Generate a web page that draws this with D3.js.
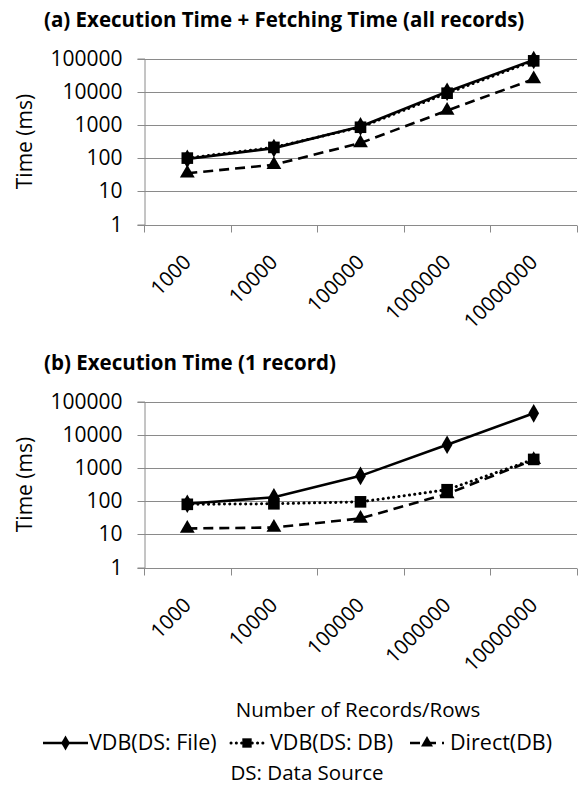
<!DOCTYPE html>
<html>
<head>
<meta charset="utf-8">
<script src="https://cdn.jsdelivr.net/npm/d3@7"></script>
<style>
  html, body { margin: 0; padding: 0; background: #fff; }
  svg text { font-family: "Open Sans", "Noto Sans", sans-serif; fill: #000; }
</style>
</head>
<body>
<svg id="chart" width="585" height="787"></svg>
<script>
// ---- data ----
const categories = ["1000", "10000", "100000", "1000000", "10000000"];
const yTicks = [1, 10, 100, 1000, 10000, 100000];
const seriesNames = ["VDB(DS: File)", "VDB(DS: DB)", "Direct(DB)"];

// (a) Execution Time + Fetching Time (all records)
const aFile   = [95, 200, 900, 10000, 90000];
const aDB     = [100, 210, 850, 9000, 85000];
const aDirect = [35, 63, 285, 2700, 24000];

// (b) Execution Time (1 record)
const bFile   = [83, 130, 575, 5000, 44000];
const bDB     = [80, 83, 95, 220, 1800];
const bDirect = [15, 16, 30, 165, 1750];

const titles = ["(a) Execution Time + Fetching Time (all records)", "(b) Execution Time (1 record)"];
const yTitle = "Time (ms)";
const xTitle = "Number of Records/Rows";
const note = "DS: Data Source";

// ---- styles ----
const styles = [
  { dash: null, marker: d3.symbolDiamond, msize: 100 },
  { dash: "0.1,5.2", marker: d3.symbolSquare, msize: 135 },
  { dash: "10,6", marker: d3.symbolTriangle, msize: 95 }
];
const gridColor = "#8a8a8a";
const fs = 20.5;

const svg = d3.select("#chart");

function styleSeriesLine(sel, i) {
  sel.attr("fill", "none").attr("stroke", "#000").attr("stroke-width", 2.6);
  if (i === 1) sel.attr("stroke-dasharray", styles[i].dash).attr("stroke-linecap", "round").attr("stroke-width", 3);
  if (i === 2) sel.attr("stroke-dasharray", styles[i].dash);
}

function panel(top, titleY, title, data) {
  const left = 144, right = 577;
  const yTop = top, yBot = top + 166;
  const g = svg.append("g");

  const x = d3.scaleBand().domain(categories).range([left, right]);
  const y = d3.scaleLog().domain([1, 100000]).range([yBot, yTop]);
  const cx = c => x(c) + x.bandwidth() / 2;

  // title
  g.append("text").attr("x", 44).attr("y", titleY)
    .attr("font-size", 20.5).attr("font-weight", "bold").text(title);

  // gridlines
  g.append("g").selectAll("line").data(yTicks.slice(1)).join("line")
    .attr("x1", left).attr("x2", right)
    .attr("y1", d => Math.round(y(d)) + 0.5).attr("y2", d => Math.round(y(d)) + 0.5)
    .attr("stroke", gridColor).attr("stroke-width", 1);

  // y axis
  const ya = g.append("g").attr("transform", `translate(${left + 0.5},0)`)
    .call(d3.axisLeft(y).tickValues(yTicks).tickFormat(d3.format("d")).tickSize(7).tickPadding(15));
  ya.select(".domain").attr("stroke", gridColor);
  ya.selectAll(".tick line").attr("stroke", gridColor);
  ya.selectAll(".tick text").attr("font-size", 21).attr("font-family", "Open Sans").attr("fill", "#000");
  ya.selectAll(".tick").attr("transform", d => `translate(0,${Math.round(y(d)) + 0.5})`);

  // x axis line + ticks at band boundaries
  const bl = Math.round(y(1)) + 0.5;
  g.append("line").attr("x1", left).attr("x2", right).attr("y1", bl).attr("y2", bl)
    .attr("stroke", gridColor);
  const bounds = d3.range(categories.length + 1).map(i => left + i * x.step());
  g.append("g").selectAll("line").data(bounds).join("line")
    .attr("x1", d => Math.round(d) + 0.5).attr("x2", d => Math.round(d) + 0.5)
    .attr("y1", bl).attr("y2", bl + 7).attr("stroke", gridColor);

  // x labels rotated
  g.append("g").selectAll("text").data(categories).join("text")
    .attr("transform", d => `translate(${cx(d) + 5},${bl + 38}) rotate(-45)`)
    .attr("text-anchor", "end").attr("font-size", fs).text(d => d);

  // y title
  g.append("text").attr("transform", `translate(32,${(yTop + yBot) / 2}) rotate(-90)`)
    .attr("text-anchor", "middle").attr("font-size", 21).text(yTitle);

  // series
  data.forEach((vals, i) => {
    const st = styles[i];
    const line = d3.line().x((d, j) => cx(categories[j])).y(d => y(d));
    g.append("path").datum(vals).attr("d", line).call(styleSeriesLine, i);
    g.append("g").selectAll("path").data(vals).join("path")
      .attr("d", d3.symbol().type(st.marker).size(st.msize))
      .attr("transform", (d, j) => `translate(${cx(categories[j])},${y(d)})`)
      .attr("fill", "#000");
  });
}

panel(58.5, 27, titles[0], [aFile, aDB, aDirect]);
panel(401.5, 370, titles[1], [bFile, bDB, bDirect]);

// x axis title
svg.append("text").attr("x", 358).attr("y", 717).attr("text-anchor", "middle")
  .attr("font-size", fs).text(xTitle);

// legend
const legendSample = [[43, 88], [231, 263], [410, 444]];
const legendTextX = [89, 270, 450];
const lg = svg.append("g");
const ly = 743;
seriesNames.forEach((name, i) => {
  const st = styles[i];
  const [x0, x1] = legendSample[i];
  lg.append("line").attr("x1", x0).attr("x2", x1).attr("y1", ly).attr("y2", ly).call(styleSeriesLine, i);
  lg.append("path").attr("d", d3.symbol().type(st.marker).size(st.msize * 0.65))
    .attr("transform", `translate(${(x0 + x1) / 2},${ly})`).attr("fill", "#000");
  lg.append("text").attr("x", legendTextX[i]).attr("y", ly + 7)
    .attr("font-size", 21.5).text(name);
});
svg.append("text").attr("x", 307).attr("y", 780).attr("text-anchor", "middle")
  .attr("font-size", fs).text(note);
</script>
</body>
</html>
